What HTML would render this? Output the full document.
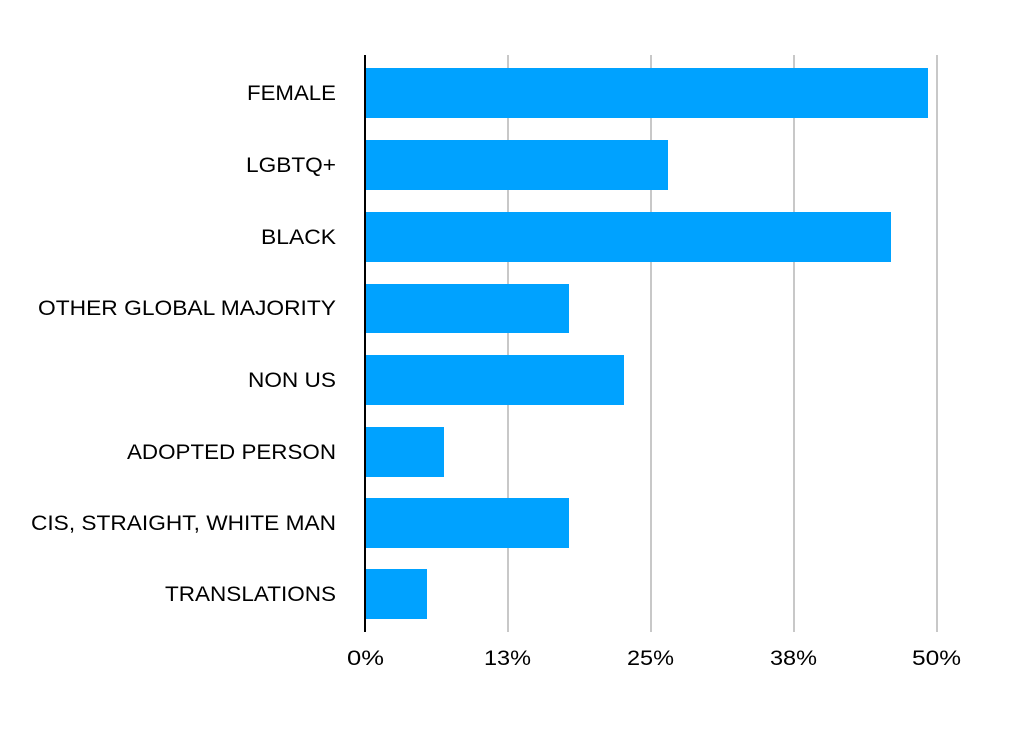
<!DOCTYPE html>
<html><head><style>
body{margin:0;background:#fff;}
svg{display:block;font-family:"Liberation Sans",Arial,sans-serif;}
</style></head><body>
<svg width="1023" height="743" viewBox="0 0 1023 743">
<g stroke="#c8c8c8" stroke-width="2">
<line x1="508" y1="55" x2="508" y2="632"/>
<line x1="651" y1="55" x2="651" y2="632"/>
<line x1="794" y1="55" x2="794" y2="632"/>
<line x1="937" y1="55" x2="937" y2="632"/>
</g>
<g fill="#00a2ff">
<rect x="365" y="68" width="563" height="50"/>
<rect x="365" y="140" width="303" height="50"/>
<rect x="365" y="212" width="526" height="50"/>
<rect x="365" y="284" width="204" height="49"/>
<rect x="365" y="355" width="259" height="50"/>
<rect x="365" y="427" width="79" height="50"/>
<rect x="365" y="498" width="204" height="50"/>
<rect x="365" y="569" width="62" height="50"/>
</g>
<line x1="365" y1="55" x2="365" y2="632" stroke="#000" stroke-width="2"/>
<g font-size="21" fill="#000" lengthAdjust="spacingAndGlyphs">
<text x="247" y="100" textLength="89" lengthAdjust="spacingAndGlyphs">FEMALE</text>
<text x="246" y="172" textLength="90" lengthAdjust="spacingAndGlyphs">LGBTQ+</text>
<text x="261" y="244" textLength="75" lengthAdjust="spacingAndGlyphs">BLACK</text>
<text x="38" y="315" textLength="298" lengthAdjust="spacingAndGlyphs">OTHER GLOBAL MAJORITY</text>
<text x="248" y="387" textLength="88" lengthAdjust="spacingAndGlyphs">NON US</text>
<text x="127" y="459" textLength="209" lengthAdjust="spacingAndGlyphs">ADOPTED PERSON</text>
<text x="31" y="530" textLength="305" lengthAdjust="spacingAndGlyphs">CIS, STRAIGHT, WHITE MAN</text>
<text x="165" y="601" textLength="171" lengthAdjust="spacingAndGlyphs">TRANSLATIONS</text>
</g>
<g font-size="21" fill="#000">
<text x="347" y="665" textLength="37" lengthAdjust="spacingAndGlyphs">0%</text>
<text x="484" y="665" textLength="47" lengthAdjust="spacingAndGlyphs">13%</text>
<text x="627" y="665" textLength="47" lengthAdjust="spacingAndGlyphs">25%</text>
<text x="770" y="665" textLength="47" lengthAdjust="spacingAndGlyphs">38%</text>
<text x="912" y="665" textLength="49" lengthAdjust="spacingAndGlyphs">50%</text>
</g>
</svg>
</body></html>
